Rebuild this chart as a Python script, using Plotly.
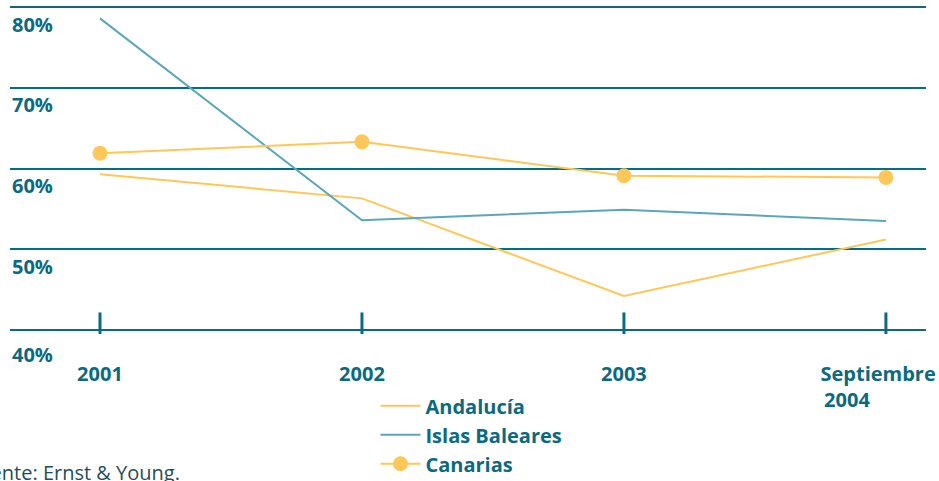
import plotly.graph_objects as go

years = ["2001", "2002", "2003",
         "Septiembre\u00a0\u00a0\u00a0<br>2004" + "\u00a0" * 15]
andalucia = [59.3, 56.3, 44.2, 51.2]
baleares = [78.6, 53.6, 54.9, 53.5]
canarias = [61.9, 63.3, 59.1, 58.9]
y_ticks = [40, 50, 60, 70, 80]
y_labels = ["40%", "50%", "60%", "70%", "80%"]

teal = "#0b6a80"
orange = "#fdc75a"
blue = "#5ba7b8"
font = "Open Sans"

xs = list(range(len(years)))

fig = go.Figure()

# tick marks crossing the base line
fig.add_trace(go.Scatter(x=xs, y=[40] * len(xs), mode="markers", showlegend=False,
                         hoverinfo="skip",
                         marker=dict(symbol="line-ns", size=25,
                                     line=dict(color=teal, width=3))))

fig.add_trace(go.Scatter(x=xs, y=andalucia, mode="lines", name="Andalucía",
                         line=dict(color=orange, width=2)))
fig.add_trace(go.Scatter(x=xs, y=baleares, mode="lines", name="Islas Baleares",
                         line=dict(color=blue, width=2)))
fig.add_trace(go.Scatter(x=xs, y=canarias, mode="lines+markers", name="Canarias",
                         line=dict(color=orange, width=2),
                         marker=dict(size=15, color=orange)))

# y labels sit under each grid line
for v, lab in zip(y_ticks, y_labels):
    fig.add_annotation(x=0, xref="paper", y=v, yref="y", text=lab, showarrow=False,
                       xanchor="left", yanchor="middle", xshift=0,
                       yshift=-25 if v == 40 else -17,
                       font=dict(family=font, size=20, color=teal, weight="bold"))

fig.add_annotation(x=0.1878, xref="paper", y=-0.417, yref="paper",
                   text="Fuente: Ernst & Young.", showarrow=False,
                   xanchor="right", yanchor="middle",
                   font=dict(family=font, size=20, color="#1f4d5a"))

fig.update_layout(
    width=939, height=481,
    margin=dict(l=10, r=13, t=3, b=147, autoexpand=False),
    plot_bgcolor="white", paper_bgcolor="white",
    xaxis=dict(range=[-0.3435, 3.153], tickmode="array", tickvals=xs, ticktext=years,
               showgrid=False, zeroline=False, showline=False, ticks="",
               ticklabelstandoff=26, automargin=False, ticklabeloverflow="allow",
               tickfont=dict(family=font, size=20, color=teal, weight="bold")),
    yaxis=dict(range=[39.5, 80.5], tickvals=y_ticks, showticklabels=False,
               showgrid=True, gridcolor=teal, gridwidth=2, zeroline=False,
               showline=False),
    legend=dict(x=0.399, y=-0.158, xanchor="left", yanchor="top",
                font=dict(family=font, size=20, color=teal, weight="bold"),
                tracegroupgap=0, itemwidth=40),
    showlegend=True,
)

fig.write_html("out.html", config={"displayModeBar": False},
               post_script="document.body.style.margin='0';document.body.style.overflow='hidden';")
